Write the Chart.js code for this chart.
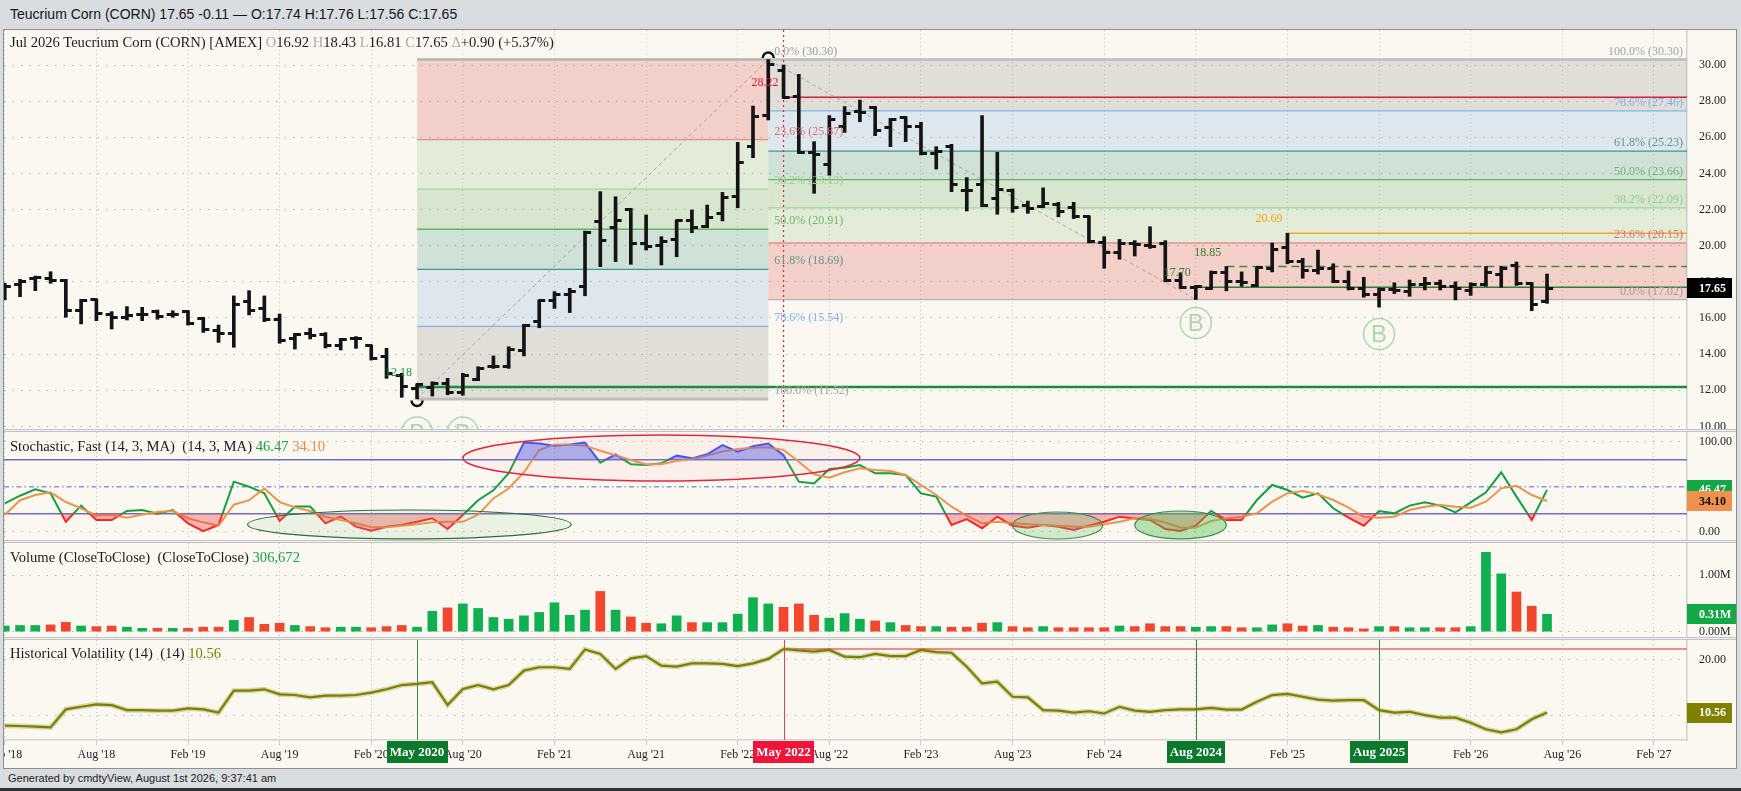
<!DOCTYPE html>
<html>
<head>
<meta charset="utf-8">
<title>Teucrium Corn (CORN)</title>
<script src="https://cdn.jsdelivr.net/npm/chart.js@4.4.1/dist/chart.umd.min.js"></script>
<style>
 html,body{margin:0;padding:0}
 body{width:1741px;height:791px;background:#d9dde0;position:relative;overflow:hidden}
 #hdr{position:absolute;left:10px;top:0;height:29px;line-height:29px;font-family:'Liberation Sans',Arial,sans-serif;font-size:14px;color:#161616;white-space:pre}
 #frame{position:absolute;left:3px;top:29px;width:1734px;height:740px;box-sizing:border-box;border:1px solid #8e8e8e;background:#faf8f1}
 canvas{position:absolute;left:4px}
 .sep{position:absolute;left:4px;width:1732px;height:3px;box-sizing:border-box;background:#f1f1f1;border-top:1px solid #c3c3c3;border-bottom:1px solid #c3c3c3}
 .ttl{position:absolute;left:10px;height:18px;line-height:18px;font-family:'Liberation Serif','Times New Roman',serif;font-size:14.6px;color:#1c1c1c;white-space:pre;pointer-events:none}
 .g{color:#a9a9a9}
 #ftr{position:absolute;left:8px;top:769px;height:19px;line-height:19px;font-family:'Liberation Sans',Arial,sans-serif;font-size:11px;color:#222;white-space:pre}
 #dark{position:absolute;left:0;top:788px;width:1741px;height:3px;background:#2d3135}
</style>
</head>
<body>
<div id="hdr">Teucrium Corn (CORN) 17.65 -0.11 — O:17.74 H:17.76 L:17.56 C:17.65</div>
<div id="frame"></div>
<canvas id="cMain" width="1732" height="399" style="top:30px;width:1732px;height:399px"></canvas>
<div class="sep" style="top:429px"></div>
<canvas id="cStoch" width="1732" height="108" style="top:432px;width:1732px;height:108px"></canvas>
<div class="sep" style="top:540px"></div>
<canvas id="cVol" width="1732" height="94" style="top:543px;width:1732px;height:94px"></canvas>
<div class="sep" style="top:637px"></div>
<canvas id="cHV" width="1732" height="128" style="top:640px;width:1732px;height:128px"></canvas>
<div class="ttl" style="top:33px">Jul 2026 Teucrium Corn (CORN) [AMEX] <span class="g">O</span>16.92 <span class="g">H</span>18.43 <span class="g">L</span>16.81 <span class="g">C</span>17.65 <span class="g">Δ</span>+0.90 (+5.37%)</div>
<div class="ttl" style="top:437px">Stochastic, Fast (14, 3, MA)  (14, 3, MA) <span style="color:#14a346">46.47</span> <span style="color:#f08a3c">34.10</span></div>
<div class="ttl" style="top:548px">Volume (CloseToClose)  (CloseToClose) <span style="color:#14a346">306,672</span></div>
<div class="ttl" style="top:644px">Historical Volatility (14)  (14) <span style="color:#7d7d00">10.56</span></div>
<div id="ftr">Generated by cmdtyView, August 1st 2026, 9:37:41 am</div>
<div id="dark"></div>
<script>
const SERIF = "'Liberation Serif','Times New Roman',serif";
const SANS = "'Liberation Sans',Arial,sans-serif";

// ---------------- DATA ----------------
const months = [
 '2018-02','2018-03','2018-04','2018-05','2018-06','2018-07','2018-08','2018-09','2018-10','2018-11','2018-12',
 '2019-01','2019-02','2019-03','2019-04','2019-05','2019-06','2019-07','2019-08','2019-09','2019-10','2019-11','2019-12',
 '2020-01','2020-02','2020-03','2020-04','2020-05','2020-06','2020-07','2020-08','2020-09','2020-10','2020-11','2020-12',
 '2021-01','2021-02','2021-03','2021-04','2021-05','2021-06','2021-07','2021-08','2021-09','2021-10','2021-11','2021-12',
 '2022-01','2022-02','2022-03','2022-04','2022-05','2022-06','2022-07','2022-08','2022-09','2022-10','2022-11','2022-12',
 '2023-01','2023-02','2023-03','2023-04','2023-05','2023-06','2023-07','2023-08','2023-09','2023-10','2023-11','2023-12',
 '2024-01','2024-02','2024-03','2024-04','2024-05','2024-06','2024-07','2024-08','2024-09','2024-10','2024-11','2024-12',
 '2025-01','2025-02','2025-03','2025-04','2025-05','2025-06','2025-07','2025-08','2025-09','2025-10','2025-11','2025-12',
 '2026-01','2026-02','2026-03','2026-04','2026-05','2026-06','2026-07'
];
const opens = [
 17.64,17.83,18.16,18.19,18.10,16.44,17.00,16.17,16.04,16.17,
 16.35,16.22,16.35,15.98,15.33,15.15,16.90,16.53,15.93,14.87,
 15.15,15.11,14.50,14.85,14.45,13.86,12.84,12.10,12.15,12.35,
 11.85,12.57,13.30,13.30,14.20,15.80,16.99,17.30,17.73,21.33,
 21.00,22.00,20.13,20.00,20.37,21.42,21.05,21.79,22.71,25.48,
 27.23,29.72,28.25,25.17,24.47,26.59,27.42,27.64,26.53,27.08,
 26.59,25.11,25.48,23.08,23.40,22.62,23.08,22.25,22.15,22.30,
 22.10,21.60,20.20,19.60,20.10,20.00,20.10,18.10,17.70,17.65,
 18.50,18.00,17.80,18.75,19.90,19.10,18.60,18.75,18.00,17.65,
 17.30,17.58,17.45,17.85,17.90,17.75,17.50,17.85,18.40,18.90,
 17.90,16.92
];
const highs = [
 17.92,18.14,18.32,18.56,18.14,17.03,17.03,16.35,16.63,16.59,
 16.44,16.40,16.40,16.04,15.61,17.22,17.51,17.22,16.22,15.15,
 15.43,15.19,14.87,14.97,14.50,14.32,12.94,12.35,12.47,12.66,
 12.94,13.30,13.90,14.41,15.65,16.99,17.46,17.64,20.81,22.99,
 22.71,22.07,21.70,20.50,21.42,21.98,22.25,22.95,25.72,27.73,
 30.30,30.00,29.48,25.76,27.20,27.70,28.06,27.70,27.05,27.14,
 26.83,25.48,25.61,23.77,27.20,25.17,23.14,22.47,23.20,22.40,
 22.40,21.65,20.50,20.35,20.28,21.05,20.28,18.50,17.80,18.60,
 18.85,18.55,18.82,20.15,20.69,19.30,19.76,19.00,18.60,18.25,
 17.65,17.95,18.10,18.25,18.10,18.00,17.95,18.85,18.85,19.10,
 17.95,18.43
];
const lows = [
 17.00,17.18,17.51,17.92,16.04,15.67,15.85,15.39,15.89,15.85,
 15.93,16.04,15.61,15.20,14.65,14.38,16.17,15.80,14.60,14.28,
 14.84,14.34,14.23,14.32,13.67,12.66,11.61,11.52,11.68,11.75,
 11.72,12.53,13.21,13.21,13.90,15.46,16.53,16.30,17.23,18.84,
 19.12,18.97,19.76,18.93,19.39,20.72,21.00,21.37,22.10,24.87,
 26.96,28.16,25.11,22.90,23.90,26.27,26.86,26.09,25.48,25.76,
 25.02,24.24,22.99,21.92,22.16,21.74,21.85,21.79,22.10,21.60,
 21.50,20.15,18.75,19.25,19.43,19.85,18.00,17.63,17.02,17.58,
 17.50,17.75,17.75,18.55,19.00,18.20,18.43,17.95,17.55,17.15,
 16.60,17.35,17.20,17.55,17.55,17.00,17.25,17.75,17.70,17.80,
 16.40,16.81
];
const closes = [
 17.73,18.01,18.23,18.07,16.44,16.96,16.26,16.04,16.11,16.17,
 16.07,16.17,15.70,15.37,15.15,16.72,16.44,15.89,14.78,15.11,
 15.05,14.50,14.82,14.88,13.77,12.94,12.20,12.30,12.35,11.85,
 12.84,13.20,13.30,14.27,15.60,16.94,17.30,17.49,20.74,20.30,
 21.42,20.13,19.95,20.22,21.37,21.00,21.55,22.66,24.60,27.14,
 30.04,28.22,25.17,25.06,26.96,27.33,27.38,26.40,27.01,26.59,
 25.11,25.24,23.36,23.08,22.20,23.12,22.10,22.07,22.35,21.90,
 21.60,20.25,19.60,20.10,20.05,19.95,18.10,17.70,17.75,18.50,
 18.00,17.95,18.80,19.80,19.10,18.60,18.75,18.00,17.65,17.30,
 17.58,17.50,17.85,17.90,17.75,17.65,17.85,18.50,18.75,17.90,
 16.75,17.65
];
const volumes = [ // millions of shares
 0.10,0.11,0.11,0.12,0.165,0.10,0.09,0.10,0.08,0.06,
 0.06,0.06,0.06,0.08,0.08,0.20,0.25,0.13,0.15,0.11,
 0.09,0.07,0.08,0.08,0.07,0.09,0.11,0.08,0.36,0.42,
 0.49,0.41,0.25,0.22,0.28,0.34,0.51,0.29,0.38,0.71,
 0.38,0.26,0.15,0.14,0.28,0.16,0.16,0.16,0.31,0.60,
 0.49,0.43,0.49,0.29,0.24,0.32,0.22,0.19,0.16,0.11,
 0.09,0.09,0.08,0.08,0.15,0.16,0.09,0.07,0.09,0.07,
 0.07,0.07,0.07,0.10,0.09,0.14,0.09,0.09,0.08,0.09,
 0.09,0.07,0.07,0.12,0.14,0.10,0.11,0.08,0.07,0.05,
 0.09,0.09,0.07,0.07,0.07,0.07,0.09,1.40,1.02,0.70,
 0.45,0.306672
];
const stochK = [
 31.5,40,47,42.6,11,29,13,13,23,24,
 20,24,9.3,0.5,7.4,55.6,50,42.6,12,28,
 28,9.3,16.7,5.6,1.1,5.6,7.4,11,15,3,
 18.6,35,46,65,99,98,95.6,97,99,76.7,
 86,75,74,76,84.5,81.5,86,96.3,89,95,
 98,85,55.6,53.7,69.7,71,74,64.9,65,63,
 42.6,39,7.4,14,3.7,16.7,6.7,4.5,7.4,5.6,
 1.9,6.7,11,16.7,14.8,13,3,0.8,6.7,23,
 13,13,35.2,51.9,46.3,37.8,42.6,26,15.6,6.7,
 23,20.4,29,32.6,29,21.5,32.6,43.7,66,39,
 13,46.47
];
const stochD = [
 18.6,35,40.8,43.7,33,26,18,18.6,15.6,19,
 22,23,15,10.4,6.7,30,35,48,33,27,
 23,16.7,13,9.3,4.9,4.9,6.7,8.2,10.4,11,
 11,19,37,48,66,90.8,97,97,95.6,90,
 85,79.7,75,75,78.6,80.8,84.5,89,92,93.4,
 93.7,90.8,77.8,63.7,60,66,70.4,68.6,67.4,63,
 51.9,40.8,27.8,17.8,9.3,11,9.3,8.2,7.4,6.7,
 5.6,5.6,8.2,11,14.8,14,10.4,4.5,4.5,11.9,
 14.8,16.7,20.4,33.4,42.6,45.2,41.5,35.2,26.7,16.7,
 15.6,16.7,24.1,27.8,29.7,27.8,26.7,33.4,48.2,51.1,
 40.8,34.10
];
const histVol = [
 8.21,8.15,8.03,7.91,11.14,11.6,12.04,11.9,11.0,11.0,
 10.9,10.9,11.3,11.14,10.55,14.5,14.5,14.74,13.84,13.72,
 13.3,13.6,13.6,13.72,14.14,14.74,15.5,15.7,16.0,11.9,
 14.8,15.5,14.74,15.5,18.1,18.7,18.7,18.4,21.9,21.1,
 18.4,20.3,20.7,19.0,18.8,19.4,19.4,19.3,18.9,19.4,
 20.2,21.97,21.7,21.5,21.8,20.6,20.5,21.1,20.7,20.7,
 21.8,21.4,21.3,18.8,15.8,16.1,13.4,13.3,11.0,10.9,
 10.55,10.8,10.4,11.6,10.9,10.7,11.0,11.15,11.15,11.4,
 11.1,11.1,12.5,13.7,13.9,13.4,12.9,12.7,12.8,12.8,
 11.0,10.55,10.7,10.1,9.64,9.64,8.75,7.56,7.0,7.56,
 9.35,10.56
];
const xTickMonths = ['2018-02','2018-08','2019-02','2019-08','2020-02','2020-08','2021-02','2021-08','2022-02','2022-08','2023-02','2023-08','2024-02','2024-08','2025-02','2025-08','2026-02','2026-08','2027-02'];
const xTickLabels = ["Feb '18","Aug '18","Feb '19","Aug '19","Feb '20","Aug '20","Feb '21","Aug '21","Feb '22","Aug '22","Feb '23","Aug '23","Feb '24","Aug '24","Feb '25","Aug '25","Feb '26","Aug '26","Feb '27"];
const priceTicks = [10,12,14,16,18,20,22,24,26,28,30];
const stochTicks = [0,100];
const volTicks = [0,1];
const hvTicks = [10,20];

// Fibonacci retracements
const fib1Span = ['2020-05','2022-04'];
const fib1Levels = [30.30,25.87,23.13,20.91,18.69,15.54,11.52];
const fib1Pcts = ['0.0%','23.6%','38.2%','50.0%','61.8%','78.6%','100.0%'];
const fib2Start = '2022-04';
const fib2Levels = [30.30,27.46,25.23,23.66,22.09,20.15,17.02];
const fib2Pcts = ['100.0%','78.6%','61.8%','50.0%','38.2%','23.6%','0.0%'];
// marked price levels
const markLevels = [28.22,20.69,18.85,17.70,12.18];
const markStarts = ['2022-05','2025-02','2024-10','2024-08','2020-05'];
// swing points
const swingLow = {month:'2020-05', price:11.52};
const swingHigh = {month:'2022-04', price:30.30};
const swingEnd = {month:'2024-08', price:17.02};
const bSignals = ['2020-05','2020-08','2024-08','2025-08'];
const bSignalPrices = [9.66,9.66,15.72,15.11];
const highlightMonth = '2022-05';
// stochastic highlight ellipses (month index / stoch value)
const stochEllipses = [[31.0,57.0,56.3,107.4],[16.9,38.1,-8,24.1],[67.0,72.9,-8.1,21.9],[75.0,81.0,-8,23]];
// historical volatility markers
const hvMarkers = ['2020-05','2022-05','2024-08','2025-08'];
const hvMarkerLabels = ['May 2020','May 2022','Aug 2024','Aug 2025'];
const hvMaxLevel = 21.97;
const lastPrice = 17.65, lastK = 46.47, lastD = 34.10, lastVol = 0.306672, lastHV = 10.56;

// ---------------- HELPERS ----------------
const mi = s => { const p = s.split('-').map(Number); return (p[0]-2018)*12 + (p[1]-1); };
const X_MIN = 0.95, X_MAX = 111.166;
const AXIS_W = 49;
const noPad = s => { s.paddingTop = 0; s.paddingBottom = 0; s.paddingLeft = 0; s.paddingRight = 0; };

function xOpts(bottom){
  return {
    type:'linear', min:X_MIN, max:X_MAX, offset:false,
    afterBuildTicks: s => { s.ticks = xTickMonths.map(t => ({value: mi(t)})); },
    afterFit: s => { s.height = bottom ? 28 : 0; noPad(s); },
    grid: {offset:false, color:'rgba(0,0,0,0.22)', lineWidth:1, drawTicks:bottom, tickLength:5, tickColor:'#c9c9c9', tickBorderDash:[]},
    border: {display:bottom, color:'#d2d2d2', width:1.5, dash:[1,3]},
    ticks: {display:bottom, autoSkip:false, maxRotation:0, minRotation:0, padding:3, color:'#1e1e1e',
            font:{family:SERIF, size:12}, callback:(v,i) => xTickLabels[i]}
  };
}
function yOpts(min, max, ticks, fmt){
  return {
    type:'linear', position:'right', min, max,
    afterBuildTicks: s => { s.ticks = ticks.map(v => ({value:v})); },
    afterFit: s => { s.width = AXIS_W; noPad(s); },
    grid: {color:'rgba(0,0,0,0.28)', lineWidth:1, drawTicks:false},
    border: {display:true, color:'#d0d0d0', width:1.5, dash:[1.5,7]},
    ticks: {padding:12, color:'#1e1e1e', font:{family:SERIF, size:12}, callback: v => fmt(v)}
  };
}
function baseOpts(yCfg, bottom){
  return {
    responsive:false, maintainAspectRatio:false, animation:false, events:[],
    layout:{padding:0, autoPadding:false},
    plugins:{legend:{display:false}, tooltip:{enabled:false}},
    scales:{x:xOpts(bottom), y:yCfg}
  };
}
function axisBox(ch, val, txt, bg, fg){
  const {ctx, chartArea:a, scales:{y}} = ch;
  const py = y.getPixelForValue(val);
  ctx.save();
  ctx.font = 'bold 12px ' + SERIF;
  const w = ctx.measureText(txt).width + 18;
  ctx.fillStyle = bg; ctx.fillRect(a.right, Math.round(py - 10), w, 20);
  ctx.fillStyle = fg; ctx.textAlign = 'left'; ctx.textBaseline = 'middle';
  ctx.fillText(txt, a.right + 12, py + 0.5);
  ctx.restore();
}
function tickImg(side){
  const c = document.createElement('canvas'); c.width = 14; c.height = 3;
  const g = c.getContext('2d'); g.fillStyle = '#141414';
  if (side < 0) g.fillRect(1, 0, 7, 3); else g.fillRect(6, 0, 7, 3);
  return c;
}

// styles
const BAND = ['rgba(233,115,114,0.30)','rgba(177,208,161,0.30)','rgba(147,191,138,0.32)','rgba(120,178,161,0.32)','rgba(160,191,231,0.30)','rgba(170,163,160,0.30)'];
const LINEC = ['#b3b3b3','#e58c8c','#a2d39c','#63b463','#3e9a84','#7fb3ea','#bdbdbd'];
const LABC = ['#9c9c9c','#dc6b78','#96cc90','#6cb56c','#5f958c','#7fb0ee','#a4a4a4'];
const MARK_STYLE = [
  {line:'#d21f3c', w:1.5, dash:[], text:'#ea1030'},
  {line:'#f4a52a', w:1.5, dash:[], text:'#f5a000'},
  {line:'#3d8b40', w:1.5, dash:[8,5], text:'#2f7d33'},
  {line:'#2f7d33', w:1.5, dash:[], text:'#2f7d33'},
  {line:'#1f8a3b', w:2.5, dash:[], text:'#16993a'}
];
const ELL_STYLE = [
  {stroke:'#e3263f', fill:'rgba(255,170,170,0.10)', w:1.5},
  {stroke:'#2f6e35', fill:'rgba(140,190,140,0.13)', w:1.2},
  {stroke:'#3f8f45', fill:'rgba(110,185,110,0.28)', w:1.2},
  {stroke:'#3f8f45', fill:'rgba(85,190,85,0.42)', w:1.2}
];
const GREEN = '#0fb04f', RED = '#f2472d';

// ---------------- MAIN PRICE CHART ----------------
const mainPlugin = {
  id:'mainPlugin',
  beforeDatasetsDraw(ch){
    const {ctx, chartArea:a, scales:{x, y}} = ch;
    const X = m => x.getPixelForValue(m), Y = v => y.getPixelForValue(v);
    ctx.save();
    ctx.beginPath(); ctx.rect(a.left, a.top, a.right - a.left, a.bottom - a.top); ctx.clip();
    const z1a = X(mi(fib1Span[0])), z1b = X(mi(fib1Span[1]));
    for (let i = 0; i < 6; i++){ ctx.fillStyle = BAND[i]; ctx.fillRect(z1a, Y(fib1Levels[i]), z1b - z1a, Y(fib1Levels[i+1]) - Y(fib1Levels[i])); }
    const z2a = X(mi(fib2Start)), z2b = a.right;
    for (let i = 0; i < 6; i++){ ctx.fillStyle = BAND[5-i]; ctx.fillRect(z2a, Y(fib2Levels[i]), z2b - z2a, Y(fib2Levels[i+1]) - Y(fib2Levels[i])); }
    const hline = (x1, x2, v, col, w, dash) => { ctx.beginPath(); ctx.setLineDash(dash || []); ctx.strokeStyle = col; ctx.lineWidth = w; const yy = Y(v); ctx.moveTo(x1, yy); ctx.lineTo(x2, yy); ctx.stroke(); };
    fib1Levels.forEach((v, i) => hline(z1a, z1b, v, LINEC[i], i === 0 ? 2.5 : (i === 6 ? 3 : 1.3)));
    fib2Levels.forEach((v, i) => hline(z2a, z2b, v, LINEC[6-i], i === 0 ? 2.5 : 1.3));
    MARK_STYLE.forEach((st, i) => hline(X(mi(markStarts[i])), a.right, markLevels[i], st.line, st.w, st.dash));
    ctx.beginPath(); ctx.setLineDash([2,3]); ctx.strokeStyle = '#e8203a'; ctx.lineWidth = 1.2;
    const hx = X(mi(highlightMonth)); ctx.moveTo(hx, a.top); ctx.lineTo(hx, a.bottom); ctx.stroke();
    ctx.beginPath(); ctx.setLineDash([4,3]); ctx.strokeStyle = '#a9a9a9'; ctx.lineWidth = 1;
    ctx.moveTo(X(mi(swingLow.month)), Y(swingLow.price)); ctx.lineTo(X(mi(swingHigh.month)), Y(swingHigh.price)); ctx.lineTo(X(mi(swingEnd.month)), Y(swingEnd.price)); ctx.stroke();
    ctx.restore();
  },
  afterDatasetsDraw(ch){
    const {ctx, chartArea:a, scales:{x, y}} = ch;
    const X = m => x.getPixelForValue(m), Y = v => y.getPixelForValue(v);
    ctx.save();
    ctx.beginPath(); ctx.rect(a.left, a.top, a.right - a.left, a.bottom - a.top); ctx.clip();
    ctx.font = '12px ' + SERIF; ctx.textBaseline = 'alphabetic';
    const z1b = X(mi(fib1Span[1]));
    ctx.textAlign = 'left';
    fib1Levels.forEach((v, i) => { ctx.fillStyle = LABC[i]; ctx.fillText(fib1Pcts[i] + ' (' + v.toFixed(2) + ')', z1b + 6, Y(v) - 5); });
    ctx.textAlign = 'right';
    fib2Levels.forEach((v, i) => { ctx.fillStyle = LABC[6-i]; ctx.fillText(fib2Pcts[i] + ' (' + v.toFixed(2) + ')', a.right - 4, Y(v) - 5); });
    ctx.textBaseline = 'middle';
    markLevels.forEach((v, i) => { ctx.fillStyle = MARK_STYLE[i].text; ctx.fillText(v.toFixed(2), X(mi(markStarts[i])) - 5, Y(v) - 14); });
    ctx.setLineDash([]); ctx.strokeStyle = '#111'; ctx.lineWidth = 2.5;
    ctx.beginPath(); ctx.arc(X(mi(swingLow.month)), Y(swingLow.price) + 1.5, 5.5, 0, Math.PI); ctx.stroke();
    ctx.beginPath(); ctx.arc(X(mi(swingHigh.month)), Y(swingHigh.price) - 1.5, 5.5, Math.PI, 2 * Math.PI); ctx.stroke();
    bSignals.forEach((m, i) => {
      const cx = X(mi(m)), cy = Y(bSignalPrices[i]);
      ctx.beginPath(); ctx.arc(cx, cy, 15.5, 0, 2 * Math.PI);
      ctx.strokeStyle = 'rgba(120,195,135,0.6)'; ctx.lineWidth = 1.5; ctx.stroke();
      ctx.fillStyle = 'rgba(120,195,135,0.6)'; ctx.font = '24px ' + SANS; ctx.textAlign = 'center'; ctx.textBaseline = 'middle';
      ctx.fillText('B', cx, cy + 1.5);
    });
    ctx.restore();
  },
  afterDraw(ch){ axisBox(ch, lastPrice, lastPrice.toFixed(2), '#000', '#fff'); }
};

new Chart(document.getElementById('cMain'), {
  type:'bar',
  data:{datasets:[
    {type:'bar', data: months.map((s, i) => ({x: mi(s), y: [lows[i], highs[i]]})), backgroundColor:'#141414', barThickness:3, grouped:false, order:3},
    {type:'line', showLine:false, data: months.map((s, i) => ({x: mi(s), y: opens[i]})), pointStyle: tickImg(-1), pointRadius:3, pointHoverRadius:3, order:1},
    {type:'line', showLine:false, data: months.map((s, i) => ({x: mi(s), y: closes[i]})), pointStyle: tickImg(1), pointRadius:3, pointHoverRadius:3, order:2}
  ]},
  options: baseOpts(yOpts(9.856, 31.937, priceTicks, v => v.toFixed(2)), false),
  plugins:[mainPlugin]
});

// ---------------- STOCHASTIC ----------------
const kPts = months.map((s, i) => ({x: mi(s), y: stochK[i]}));
const dPts = months.map((s, i) => ({x: mi(s), y: stochD[i]}));
const stochPlugin = {
  id:'stochPlugin',
  beforeDatasetsDraw(ch){
    const {ctx, chartArea:a, scales:{y}} = ch;
    ctx.save();
    const hl = (v, col, dash) => { const yy = y.getPixelForValue(v); ctx.beginPath(); ctx.setLineDash(dash); ctx.strokeStyle = col; ctx.lineWidth = 1.5; ctx.moveTo(a.left, yy); ctx.lineTo(a.right, yy); ctx.stroke(); };
    hl(80, '#6b70c4', []); hl(20, '#6b70c4', []); hl(50, '#9094d8', [5,3,1.5,3]);
    ctx.restore();
  },
  afterDatasetsDraw(ch){
    const {ctx, chartArea:a, scales:{x, y}} = ch;
    ctx.save();
    ctx.beginPath(); ctx.rect(a.left, a.top, a.right - a.left, a.bottom - a.top); ctx.clip();
    stochEllipses.forEach((e, i) => {
      const x1 = x.getPixelForValue(e[0]), x2 = x.getPixelForValue(e[1]);
      const y1 = y.getPixelForValue(e[2]), y2 = y.getPixelForValue(e[3]);
      ctx.beginPath(); ctx.ellipse((x1 + x2) / 2, (y1 + y2) / 2, Math.abs(x2 - x1) / 2, Math.abs(y2 - y1) / 2, 0, 0, 2 * Math.PI);
      ctx.fillStyle = ELL_STYLE[i].fill; ctx.fill();
      ctx.strokeStyle = ELL_STYLE[i].stroke; ctx.lineWidth = ELL_STYLE[i].w; ctx.stroke();
    });
    ctx.restore();
  },
  afterDraw(ch){
    axisBox(ch, lastK, lastK.toFixed(2), '#12a846', '#fff');
    axisBox(ch, lastD, lastD.toFixed(2), '#f0924e', '#111');
  }
};
new Chart(document.getElementById('cStoch'), {
  type:'line',
  data:{datasets:[
    {data:kPts, borderWidth:0, pointRadius:0, fill:{target:{value:80}, above:'rgba(70,90,235,0.48)', below:'rgba(0,0,0,0)'}},
    {data:kPts, borderWidth:0, pointRadius:0, fill:{target:{value:20}, above:'rgba(0,0,0,0)', below:'rgba(235,60,60,0.36)'}},
    {data:dPts, borderColor:'#f0924a', borderWidth:2, pointRadius:0, fill:false},
    {data:kPts, borderWidth:2, pointRadius:0, fill:false,
     borderColor: c => {
       const ch = c.chart, a = ch.chartArea;
       if (!a) return '#12a040';
       const ys = ch.scales.y, t = a.top, b = a.bottom;
       const f = v => Math.min(1, Math.max(0, (ys.getPixelForValue(v) - t) / (b - t)));
       const g = ch.ctx.createLinearGradient(0, t, 0, b);
       const f80 = f(80), f20 = f(20);
       g.addColorStop(0, '#2c4cff'); g.addColorStop(f80, '#2c4cff');
       g.addColorStop(f80, '#12a040'); g.addColorStop(f20, '#12a040');
       g.addColorStop(f20, '#ff1f1f'); g.addColorStop(1, '#ff1f1f');
       return g;
     }}
  ]},
  options: baseOpts(yOpts(-9.22, 110.78, stochTicks, v => v.toFixed(2)), false),
  plugins:[stochPlugin]
});

// ---------------- VOLUME ----------------
const volPlugin = { id:'volPlugin', afterDraw(ch){ axisBox(ch, lastVol, lastVol.toFixed(2) + 'M', '#12a846', '#fff'); } };
new Chart(document.getElementById('cVol'), {
  type:'bar',
  data:{datasets:[{
    data: months.map((s, i) => ({x: mi(s), y: volumes[i]})),
    backgroundColor: months.map((s, i) => (i === 0 || closes[i] >= closes[i-1]) ? GREEN : RED),
    barThickness:9, grouped:false
  }]},
  options: baseOpts(yOpts(-0.0935, 1.5644, volTicks, v => v.toFixed(2) + 'M'), false),
  plugins:[volPlugin]
});

// ---------------- HISTORICAL VOLATILITY ----------------
const hvPlugin = {
  id:'hvPlugin',
  beforeDatasetsDraw(ch){
    const {ctx, chartArea:a, scales:{x, y}} = ch;
    ctx.save();
    ctx.beginPath(); ctx.strokeStyle = '#f28b8b'; ctx.lineWidth = 2;
    const yy = y.getPixelForValue(hvMaxLevel);
    ctx.moveTo(x.getPixelForValue(mi(hvMarkers[1])), yy); ctx.lineTo(a.right, yy); ctx.stroke();
    hvMarkers.forEach((m, i) => {
      const xx = Math.round(x.getPixelForValue(mi(m))) + 0.5;
      ctx.beginPath(); ctx.strokeStyle = i === 1 ? '#e8405a' : '#2f8f3f'; ctx.lineWidth = 1;
      ctx.moveTo(xx, a.top); ctx.lineTo(xx, a.bottom); ctx.stroke();
    });
    ctx.restore();
  },
  afterDraw(ch){
    const {ctx, chartArea:a, scales:{x}} = ch;
    ctx.save();
    ctx.font = 'bold 13px ' + SERIF; ctx.textAlign = 'center'; ctx.textBaseline = 'middle';
    hvMarkers.forEach((m, i) => {
      const xx = x.getPixelForValue(mi(m));
      const w = ctx.measureText(hvMarkerLabels[i]).width + 6;
      ctx.fillStyle = i === 1 ? '#f0133a' : '#0c7a2c';
      ctx.fillRect(Math.round(xx - w / 2), a.bottom + 1, Math.round(w), 22);
      ctx.fillStyle = '#fff'; ctx.fillText(hvMarkerLabels[i], xx, a.bottom + 12.5);
    });
    ctx.restore();
    axisBox(ch, lastHV, lastHV.toFixed(2), '#7f7f00', '#fff');
  }
};
const hvPts = months.map((s, i) => ({x: mi(s), y: histVol[i]}));
new Chart(document.getElementById('cHV'), {
  type:'line',
  data:{datasets:[
    {data:hvPts, borderColor:'rgba(128,128,0,0.28)', borderWidth:5, pointRadius:0, fill:false},
    {data:hvPts, borderColor:'#7d7d00', borderWidth:2.2, pointRadius:0, fill:false}
  ]},
  options: baseOpts(yOpts(5.637, 23.59, hvTicks, v => v.toFixed(2)), true),
  plugins:[hvPlugin]
});
</script>
</body>
</html>
